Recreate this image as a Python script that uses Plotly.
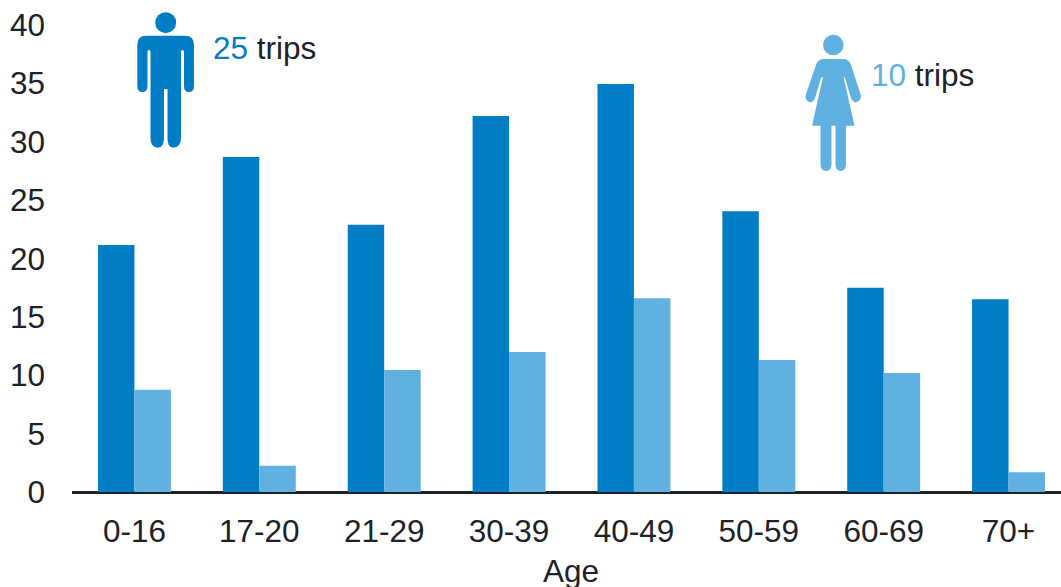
import plotly.graph_objects as go

W, H = 1061, 587
L, R, T, B = 72, 0, 25, 95

age_groups = ["0-16", "17-20", "21-29", "30-39", "40-49", "50-59", "60-69", "70+"]
male_trips = [21.15, 28.7, 22.9, 32.2, 34.95, 24.05, 17.5, 16.5]
female_trips = [8.75, 2.25, 10.45, 12.0, 16.6, 11.3, 10.2, 1.7]
y_ticks = [0, 5, 10, 15, 20, 25, 30, 35, 40]

DARK = "#007dc5"
LIGHT = "#60b1e1"
INK = "#1d2228"
FONT = "Liberation Sans"
SIZE = 31.5

fig = go.Figure()
fig.add_bar(name="Male", x=age_groups, y=male_trips, marker_color=DARK, marker_line_width=0)
fig.add_bar(name="Female", x=age_groups, y=female_trips, marker_color=LIGHT, marker_line_width=0)


def px(x):
    return (x - L) / (W - L - R)


def py(y):
    return 1 - (y - T) / (H - T - B)


def path(commands):
    """Convert icon outline from pixel positions to paper coordinates."""
    out = []
    for cmd, *pts in commands:
        coords = " ".join(f"{px(pts[i]):.5f},{py(pts[i + 1]):.5f}" for i in range(0, len(pts), 2))
        out.append(f"{cmd}{coords}")
    return " ".join(out) + " Z"


man = [
    ("M", 146, 35.7), ("L", 185, 35.7), ("Q", 194, 35.7, 194, 45), ("L", 194, 86),
    ("Q", 194, 92, 189, 92), ("Q", 184, 92, 184, 86), ("L", 184, 52), ("Q", 184, 50, 182.5, 50),
    ("Q", 181, 50, 181, 52), ("L", 181, 138), ("Q", 181, 147.7, 173, 147.7),
    ("Q", 167.5, 147.7, 167.5, 138), ("L", 167.5, 89), ("L", 164, 89), ("L", 164, 138),
    ("Q", 164, 147.7, 158, 147.7), ("Q", 150.5, 147.7, 150.5, 138), ("L", 150.5, 52),
    ("Q", 150.5, 50, 149, 50), ("Q", 147.5, 50, 147.5, 52), ("L", 147.5, 86),
    ("Q", 147.5, 92, 142.5, 92), ("Q", 137.3, 92, 137.3, 86), ("L", 137.3, 45),
    ("Q", 137.3, 35.7, 146, 35.7),
]
woman = [
    ("M", 824, 59), ("L", 843, 59), ("Q", 849, 59, 851, 65), ("L", 860.5, 94),
    ("Q", 862, 100, 857, 102), ("Q", 853, 103, 851, 98), ("L", 845, 78), ("L", 843.5, 77),
    ("L", 854.5, 125.7), ("L", 846, 125.7), ("L", 846, 164), ("Q", 846, 171, 840.5, 171),
    ("Q", 835.5, 171, 835.5, 164), ("L", 835.5, 125.7), ("L", 831.5, 125.7), ("L", 831.5, 164),
    ("Q", 831.5, 171, 826, 171), ("Q", 820.5, 171, 820.5, 164), ("L", 820.5, 125.7),
    ("L", 812, 125.7), ("L", 823, 77), ("L", 821, 78), ("L", 815, 98),
    ("Q", 813, 103, 809, 102), ("Q", 804.5, 100, 806, 94), ("L", 816, 65),
    ("Q", 818, 59, 824, 59),
]

shapes = [
    dict(type="path", path=path(man), fillcolor=DARK),
    dict(type="path", path=path(woman), fillcolor=LIGHT),
    dict(type="circle", x0=px(155.2), x1=px(176.2), y0=py(33.2), y1=py(12.2), fillcolor=DARK),
    dict(type="circle", x0=px(823), x1=px(843.6), y0=py(55.3), y1=py(34.7), fillcolor=LIGHT),
]
for s in shapes:
    s.update(xref="paper", yref="paper", line_width=0, layer="above")

annotations = [
    dict(x=px(211), y=py(47.5), text=f'<span style="color:{DARK}">25</span> trips'),
    dict(x=px(869), y=py(74.5), text=f'<span style="color:{LIGHT}">10</span> trips'),
    dict(x=px(570.5), y=py(571), text="Age", xanchor="center"),
]
for a in annotations:
    a.setdefault("xanchor", "left")
    a.update(xref="paper", yref="paper", yanchor="middle", showarrow=False,
             font=dict(family=FONT, size=SIZE, color=INK))

fig.update_layout(
    width=W, height=H, autosize=False,
    margin=dict(l=L, r=R, t=T, b=B, pad=0),
    barmode="group", bargap=0.416, bargroupgap=0,
    paper_bgcolor="white", plot_bgcolor="white",
    showlegend=False,
    font=dict(family=FONT, size=SIZE, color=INK),
    shapes=shapes, annotations=annotations,
    xaxis=dict(range=[-0.5, 7.42], showgrid=False, zeroline=False, showline=False, ticks="outside",
               ticklen=11, tickcolor="rgba(0,0,0,0)",
               fixedrange=True, automargin=False),
    yaxis=dict(range=[0, 40], tickvals=y_ticks, showgrid=False, zeroline=True, zerolinecolor=INK,
               zerolinewidth=3, showline=False, ticklabelstandoff=26, fixedrange=True, automargin=False),
)
fig.write_html("out.html", config=dict(displayModeBar=False),
               post_script="document.body.style.margin='0';")
